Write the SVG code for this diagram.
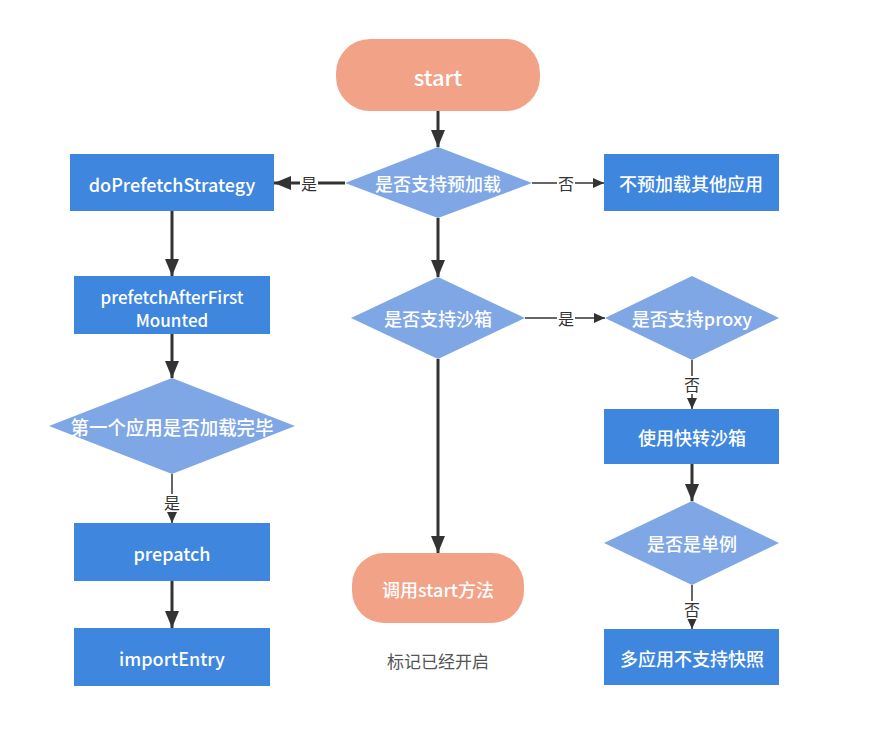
<svg xmlns="http://www.w3.org/2000/svg" width="880" height="742" viewBox="0 0 880 742">
<defs>
<style>
.term{fill:#F2A387;}
.dia{fill:#7FA7E6;}
.box{fill:#3F86DF;}
.t{font-family:"Noto Sans CJK SC","Noto Sans",sans-serif;fill:#fff;font-size:18px;font-weight:500;text-anchor:middle;dominant-baseline:central;}
.big{stroke:#333;stroke-width:3;fill:none;marker-end:url(#ab);}
.sm{stroke:#333;stroke-width:1.5;fill:none;marker-end:url(#as);}
.lbl{font-family:"Noto Sans CJK SC",sans-serif;fill:#333;font-size:16px;text-anchor:middle;dominant-baseline:central;}
.lb{fill:#fff;}
</style>
<marker id="ab" markerUnits="userSpaceOnUse" markerWidth="18" markerHeight="14" refX="17" refY="7" orient="auto" viewBox="0 0 18 14">
<path d="M0,0 L17,7 L0,14 Z" fill="#333"/>
</marker>
<marker id="as" markerUnits="userSpaceOnUse" markerWidth="12" markerHeight="10" refX="11" refY="5" orient="auto" viewBox="0 0 12 10">
<path d="M0,0 L11,5 L0,10 Z" fill="#333"/>
</marker>
</defs>
<rect width="880" height="742" fill="#fff"/>
<g id="connectors">
<line class="big" x1="438" y1="111" x2="438" y2="147"/>
<line class="big" x1="345" y1="183" x2="274" y2="183"/>
<line class="sm" x1="532" y1="183" x2="604" y2="183"/>
<line class="big" x1="438" y1="218" x2="438" y2="277"/>
<line class="sm" x1="525" y1="318" x2="605" y2="318"/>
<line class="big" x1="438" y1="359" x2="438" y2="553"/>
<line class="big" x1="172" y1="211" x2="172" y2="276"/>
<line class="big" x1="172" y1="334" x2="172" y2="378"/>
<line class="sm" x1="172" y1="474" x2="172" y2="523"/>
<line class="big" x1="172" y1="581" x2="172" y2="628"/>
<line class="sm" x1="692" y1="360" x2="692" y2="409"/>
<line class="big" x1="692" y1="464" x2="692" y2="501"/>
<line class="sm" x1="692" y1="585" x2="692" y2="629"/>
<rect class="lb" x="300" y="174" width="18" height="18"/><text class="lbl" x="309" y="183">是</text>
<rect class="lb" x="557" y="174" width="18" height="18"/><text class="lbl" x="566" y="183">否</text>
<rect class="lb" x="557" y="309" width="18" height="18"/><text class="lbl" x="566" y="318">是</text>
<rect class="lb" x="163" y="494" width="18" height="18"/><text class="lbl" x="172" y="502">是</text>
<rect class="lb" x="683" y="376" width="18" height="18"/><text class="lbl" x="692" y="384">否</text>
<rect class="lb" x="683" y="601" width="18" height="18"/><text class="lbl" x="692" y="609">否</text>
</g>
<g id="start"><rect class="term" x="336" y="39" width="204" height="72" rx="34"/><text class="t" x="438" y="76" style="font-size:22px">start</text></g>
<g id="d-preload"><polygon class="dia" points="438,147 532,183 438,218 345,183"/><text class="t" x="438" y="183">是否支持预加载</text></g>
<g id="no-preload"><rect class="box" x="604" y="154" width="175" height="57"/><text class="t" x="691" y="183">不预加载其他应用</text></g>
<g id="doPrefetchStrategy"><rect class="box" x="70" y="154" width="204" height="57"/><text class="t" x="172" y="184">doPrefetchStrategy</text></g>
<g id="prefetchAfterFirstMounted"><rect class="box" x="74" y="276" width="196" height="58"/><text class="t" x="172" y="296" style="font-size:17px">prefetchAfterFirst</text><text class="t" x="172" y="319" style="font-size:17px">Mounted</text></g>
<g id="d-first"><polygon class="dia" points="172,378 295,426 172,474 49,426"/><text class="t" x="172" y="426" style="font-size:19px" textLength="203" lengthAdjust="spacingAndGlyphs">第一个应用是否加载完毕</text></g>
<g id="prepatch"><rect class="box" x="74" y="523" width="196" height="58"/><text class="t" x="172" y="553">prepatch</text></g>
<g id="importEntry"><rect class="box" x="74" y="628" width="196" height="58"/><text class="t" x="172" y="658">importEntry</text></g>
<g id="d-sandbox"><polygon class="dia" points="438,277 525,318 438,359 351,318"/><text class="t" x="438" y="318">是否支持沙箱</text></g>
<g id="d-proxy"><polygon class="dia" points="692,276 779,318 692,360 605,318"/><text class="t" x="692" y="318">是否支持proxy</text></g>
<g id="snapshot-sandbox"><rect class="box" x="604" y="409" width="175" height="55"/><text class="t" x="692" y="437">使用快转沙箱</text></g>
<g id="d-singular"><polygon class="dia" points="692,501 779,543 692,585 604,543"/><text class="t" x="692" y="543">是否是单例</text></g>
<g id="no-snapshot"><rect class="box" x="604" y="629" width="175" height="56"/><text class="t" x="692" y="658">多应用不支持快照</text></g>
<g id="call-start"><rect class="term" x="352" y="553" width="172" height="70" rx="32"/><text class="t" x="438" y="589">调用start方法</text></g>
<g id="note"><text x="438" y="660" style="font-family:'Noto Sans CJK SC',sans-serif;fill:#555;font-size:17px;text-anchor:middle;dominant-baseline:central">标记已经开启</text></g>
</svg>
